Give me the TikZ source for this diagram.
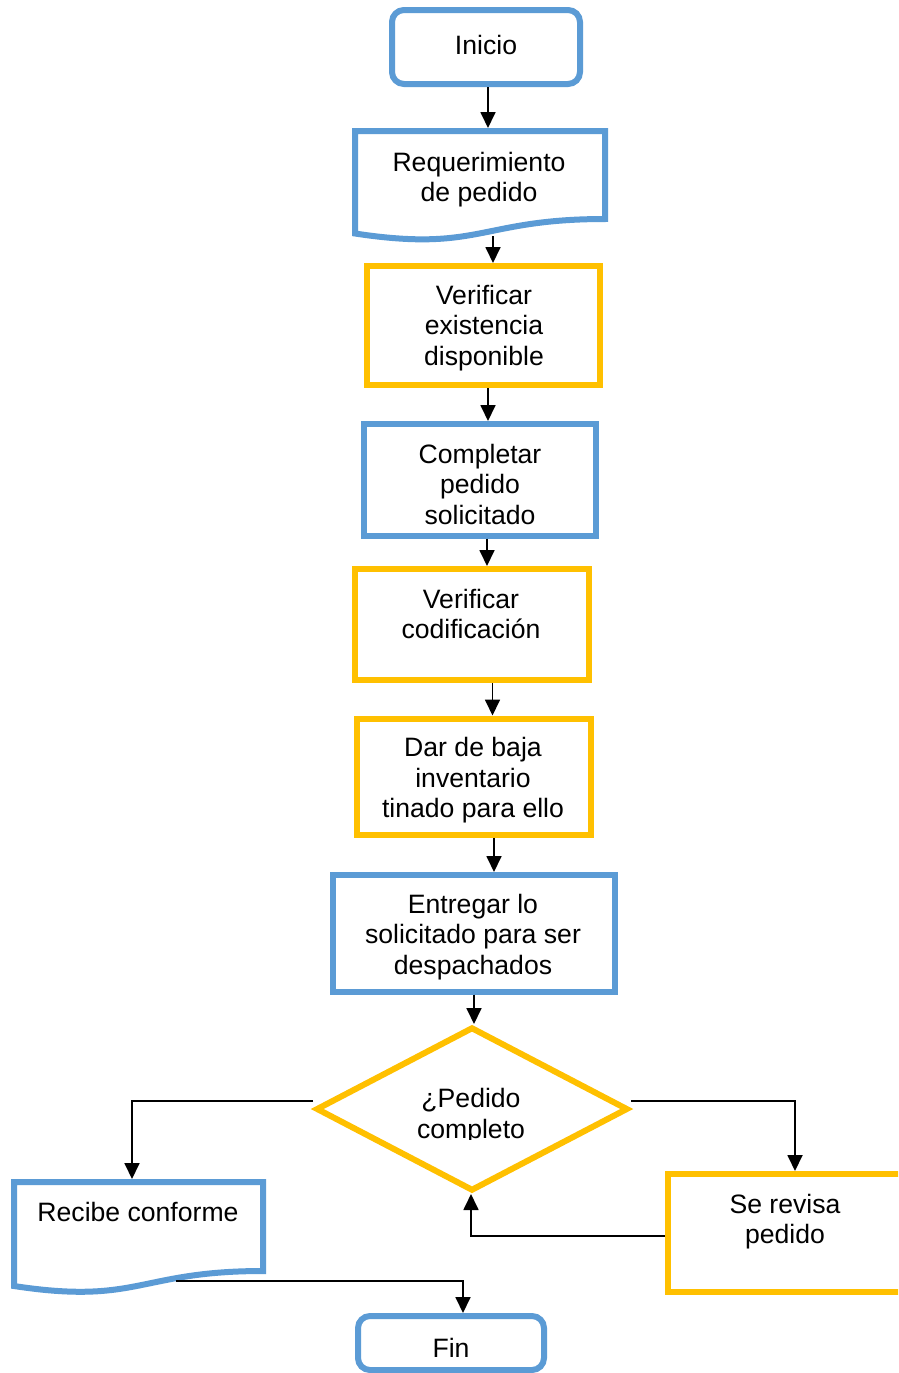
\documentclass[tikz,border=0pt]{standalone}
\usepackage{fontspec}
\setmainfont{Liberation Sans}
\usetikzlibrary{shapes.geometric,arrows.meta,calc}
\definecolor{flowblue}{HTML}{5B9BD5}
\definecolor{flowgold}{HTML}{FFC000}
\begin{document}
\begin{tikzpicture}[x=1pt,y=-1pt,
  bluebox/.style={rectangle,draw=flowblue,line width=6pt,inner sep=0pt},
  goldbox/.style={rectangle,draw=flowgold,line width=6pt,inner sep=0pt},
  docframe/.style={rectangle,draw=none,inner sep=0pt,outer sep=3pt},
  docline/.style={draw=flowblue,line width=6pt},
  txt/.style={font=\fontsize{26.6}{30.5}\selectfont,align=center,inner sep=0pt},
  arr/.style={draw=black,line width=1.8pt,-{Triangle[length=16pt,width=15pt]}}
]
\useasboundingbox (0,0) rectangle (898,1373);
\clip (0,0) rectangle (898,1373);
\fill[white] (0,0) rectangle (898,1373);

% terminators and process boxes
\node[bluebox,rounded corners=12pt,minimum width=188pt,minimum height=74pt] (inicio) at (486,47) {};
\node[goldbox,minimum width=233.5pt,minimum height=119pt] (verex) at (483.25,325.5) {};
\node[bluebox,minimum width=232.5pt,minimum height=111.5pt] (comp) at (479.75,479.75) {};
\node[goldbox,minimum width=234.5pt,minimum height=111pt] (vercod) at (471.75,624.5) {};
\node[goldbox,minimum width=234pt,minimum height=116.5pt] (dar) at (473.5,776.75) {};
\node[bluebox,minimum width=282pt,minimum height=116.5pt] (ent) at (473.5,933.25) {};
\node[diamond,draw=flowgold,line width=6pt,inner sep=0pt,minimum width=312pt,minimum height=164pt] (dec) at (472,1109) {};
\node[goldbox,minimum width=234pt,minimum height=118pt] (rev) at (785,1233) {};
\node[bluebox,rounded corners=12pt,minimum width=186pt,minimum height=54pt] (fin) at (451,1343) {};

% document shapes (wavy bottom edge)
\node[docframe,minimum width=250pt,minimum height=102pt] (req) at (480,182) {};
\draw[docline] (355,131) -- (605,131) -- (605,219)
  .. controls (480,219) and (480,252.5) .. (355,233.5) -- cycle;
\node[docframe,minimum width=249pt,minimum height=100pt] (rec) at (138.5,1232) {};
\draw[docline] (14,1182) -- (263,1182) -- (263,1271)
  .. controls (138.5,1271) and (138.5,1305) .. (14,1286) -- cycle;
\coordinate (recout) at (176,1281);

% texts
\node[txt] (inicio-t) at (486,44.5) {Inicio};
\node[txt] (req-t) at (479,179.5) {Requerimiento\\de pedido};
\node[txt] (verex-t) at (484,328) {Verificar\\existencia\\disponible};
\node[txt] (comp-t) at (480,484) {Completar\\pedido\\solicitado};
\node[txt] (vercod-t) at (471,614) {Verificar\\codificación};
\node[txt] (dar-t) at (473,780.5) {Dar de baja\\inventario\\tinado para ello};
\node[txt] (ent-t) at (473,937) {Entregar lo\\solicitado para ser\\despachados};
\begin{scope}
  \clip (380,1070) rectangle (560,1139.5);
  \node[txt] (dec-t) at (471,1116) {¿Pedido\\completo};
\end{scope}
\node[txt] (rec-t) at (138,1212) {Recibe conforme};
\node[txt] (rev-t) at (785,1221.5) {Se revisa\\pedido};
\node[txt] (fin-t) at (451,1347.5) {Fin};

% connectors
\draw[arr] ([xshift=2pt]inicio.south) -- ([xshift=2pt]inicio.south |- req.north);
\draw[arr] ([xshift=13pt]req.south) -- ([xshift=9.75pt]verex.north);
\draw[arr] ([xshift=4.75pt]verex.south) -- ([xshift=8.25pt]comp.north);
\draw[arr] ([xshift=7.25pt]comp.south) -- ([xshift=15.25pt]vercod.north);
\draw[arr] ([xshift=20.75pt]vercod.south) -- ([xshift=19pt]dar.north);
\draw[arr] ([xshift=20.5pt]dar.south) -- ([xshift=20.5pt]ent.north);
\draw[arr] ([xshift=0.5pt]ent.south) -- ([xshift=2pt]dec.north);
\draw[arr] ([yshift=8pt]dec.west) -| ([xshift=-6.5pt]rec.north);
\draw[arr] ([yshift=8pt]dec.east) -| ([xshift=10pt]rev.north);
\draw[arr] ([yshift=-3pt]rev.west) -| ([xshift=-1pt]dec.south);
\draw[arr] (recout) -| ([xshift=12pt]fin.north);
\end{tikzpicture}
\end{document}
